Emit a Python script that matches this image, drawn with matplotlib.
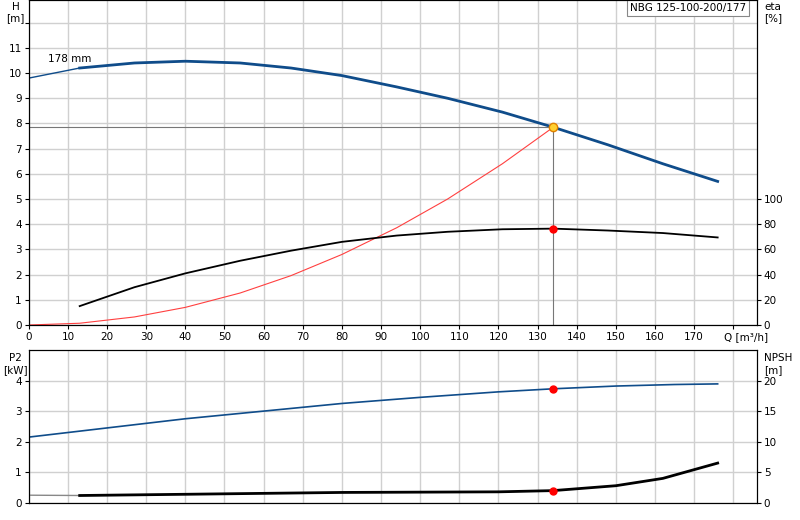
import matplotlib
matplotlib.use("Agg")
import matplotlib.pyplot as plt

q_h = [0, 13, 27, 40, 54, 67, 80, 94, 107, 121, 134, 148, 162, 176]
head = [9.8, 10.2, 10.4, 10.47, 10.4, 10.2, 9.9, 9.45, 9.0, 8.45, 7.85, 7.15, 6.4, 5.7]
q_eta = [13, 27, 40, 54, 67, 80, 94, 107, 121, 134, 148, 162, 176]
eta = [15, 30, 41, 51, 59, 66, 71, 74, 76, 76.5, 75, 73, 69.5]
q_sys = [0, 13, 27, 40, 54, 67, 80, 94, 107, 121, 134]
h_sys = [0, 0.07, 0.32, 0.7, 1.27, 1.96, 2.8, 3.86, 5.0, 6.4, 7.85]
q_p2 = [0, 20, 40, 60, 80, 100, 120, 134, 150, 165, 176]
p2 = [2.15, 2.45, 2.75, 3.0, 3.25, 3.45, 3.63, 3.73, 3.82, 3.87, 3.89]
q_npsh = [0, 13, 40, 80, 120, 134, 150, 162, 176]
npsh = [1.25, 1.2, 1.4, 1.7, 1.8, 2.0, 2.8, 4.0, 6.5]
q_op, h_op, eta_op, p2_op, npsh_op = 134, 7.85, 76.5, 3.73, 2.0

blue = "#0f4c8a"
fs = 7.5
fig = plt.figure(figsize=(8, 5.2), dpi=100)
ax = fig.add_axes([0.036, 0.375, 0.91, 0.625])
ax.set_xlim(0, 186); ax.set_ylim(0, 12.9)
ax.set_xticks(range(0, 190, 10)); ax.set_yticks(range(0, 13))
ax.set_yticklabels([str(i) for i in range(12)] + [""], fontsize=fs)
ax.set_xticklabels([str(i) for i in range(0, 180, 10)] + [""], fontsize=fs)
ax.grid(True, color="#d0d0d0", lw=1)
ax.set_axisbelow(True)
ax.plot(q_h[:2], head[:2], color=blue, lw=1)
ax.plot(q_h[1:], head[1:], color=blue, lw=2)
ax.plot(q_sys, h_sys, color="#ff4040", lw=0.8)
ax.plot([0, q_op], [h_op, h_op], color="#777777", lw=0.8)
ax.plot([q_op, q_op], [0, h_op], color="#777777", lw=0.8)
ax.plot(q_op, h_op, "o", ms=6, mfc="#ffd030", mec="#e08000", zorder=5)
ax.text(5, 10.45, "178 mm", fontsize=fs)
ax.text(-0.018, 0.995, "H\n[m]", transform=ax.transAxes, ha="center", va="top", fontsize=fs)
ax.text(177.5, -0.3, "Q [m³/h]", ha="left", va="top", fontsize=fs)
ax.text(0.985, 0.99, "NBG 125-100-200/177", transform=ax.transAxes, ha="right", va="top",
        fontsize=fs, bbox=dict(fc="white", ec="#888888", lw=0.8, pad=2))
ax2 = ax.twinx()
ax2.set_ylim(0, 258)
ax2.set_yticks(range(0, 101, 20))
ax2.set_yticklabels([str(i) for i in range(0, 101, 20)], fontsize=fs)
ax2.plot(q_eta, eta, color="black", lw=1.3)
ax2.plot(q_op, eta_op, "o", ms=5, color="red")
ax2.text(1.01, 0.995, "eta\n[%]", transform=ax2.transAxes, ha="left", va="top", fontsize=fs)
for a in (ax, ax2):
    a.tick_params(length=3, pad=2)

bx = fig.add_axes([0.036, 0.033, 0.91, 0.294])
bx.set_xlim(0, 186); bx.set_ylim(0, 5.0)
bx.set_xticks(range(0, 190, 10)); bx.set_xticklabels([])
bx.tick_params(axis="x", length=0)
bx.set_yticks(range(0, 5)); bx.set_yticklabels([str(i) for i in range(5)], fontsize=fs)
bx.grid(True, color="#d0d0d0", lw=1); bx.set_axisbelow(True)
bx.tick_params(axis="y", length=3, pad=2)
bx.plot(q_p2, p2, color=blue, lw=1.2)
bx.plot(q_op, p2_op, "o", ms=5, color="red", zorder=5)
bx.text(-0.018, 0.98, "P2\n[kW]", transform=bx.transAxes, ha="center", va="top", fontsize=fs)
bx2 = bx.twinx()
bx2.set_ylim(0, 25)
bx2.set_yticks(range(0, 21, 5)); bx2.set_yticklabels([str(i) for i in range(0, 21, 5)], fontsize=fs)
bx2.tick_params(length=3, pad=2)
bx2.plot(q_npsh[:2], npsh[:2], color="#888888", lw=1)
bx2.plot(q_npsh[1:], npsh[1:], color="black", lw=2)
bx2.plot(q_op, npsh_op, "o", ms=5, color="red", zorder=5)
bx2.text(1.01, 0.98, "NPSH\n[m]", transform=bx2.transAxes, ha="left", va="top", fontsize=fs)
fig.savefig("out.png", dpi=100)
